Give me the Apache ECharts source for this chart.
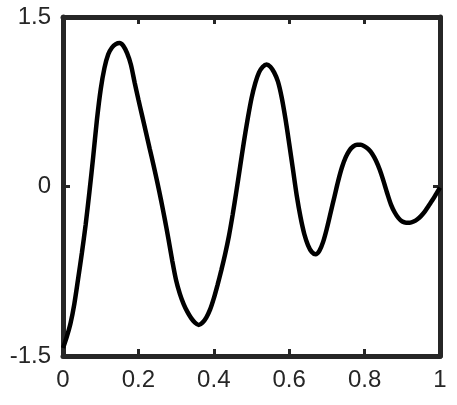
<!DOCTYPE html>
<html>
<head>
<meta charset="utf-8">
<script src="https://cdn.jsdelivr.net/npm/echarts@6/dist/echarts.min.js"></script>
<style>
  html, body { margin: 0; padding: 0; background: #fff; }
  #chart { width: 457px; height: 405px; }
</style>
</head>
<body>
<div id="chart"></div>
<script>
// values, one every 0.01 on x
var xs = [];
for (var i = 0; i <= 100; i++) xs.push(i / 100);
var ys = [
    -1.43, -1.33, -1.21, -1.04, -0.82, -0.59, -0.34, -0.05, 0.26, 0.59,
     0.86,  1.05,  1.17,  1.23,  1.26,  1.27,  1.245, 1.18, 1.08, 0.92,
     0.77,  0.625, 0.48,  0.335, 0.19,  0.04, -0.12, -0.29, -0.47, -0.66,
    -0.83, -0.95, -1.04, -1.11, -1.165, -1.205, -1.225, -1.205, -1.16, -1.09,
    -0.99, -0.87, -0.74, -0.60, -0.44, -0.25, -0.04,  0.18,  0.40,  0.60,
     0.78,  0.915, 1.01,  1.06,  1.08,  1.06,  1.01,  0.93,  0.79,  0.60,
     0.38,  0.15, -0.08, -0.27, -0.42, -0.52, -0.58, -0.60, -0.57, -0.49,
    -0.37, -0.23, -0.09,  0.05,  0.17,  0.26,  0.32,  0.355, 0.37,  0.37,
     0.355, 0.33,  0.29,  0.23,  0.15,  0.05, -0.06, -0.16, -0.23, -0.28,
    -0.31, -0.32, -0.32, -0.31, -0.29, -0.26, -0.22, -0.17, -0.12, -0.065,
    -0.01
];
var xTicks = [0, 0.2, 0.4, 0.6, 0.8, 1];
var yTicks = [-1.5, 0, 1.5];

var ink = '#262626';
var font = "'Liberation Sans', Arial, sans-serif";

var points = xs.map(function (x, i) { return [x, ys[i]]; });

function tickLabel(v) {
    return String(+v.toFixed(1));
}

var baseX = {
    type: 'value', min: 0, max: 1, interval: 0.2,
    axisLine: { show: true, onZero: false, lineStyle: { color: ink, width: 5 } },
    axisTick: { show: true, inside: true, length: 7, lineStyle: { color: ink, width: 3 } },
    splitLine: { show: false }
};
var baseY = {
    type: 'value', min: -1.5, max: 1.5, interval: 1.5,
    axisLine: { show: true, onZero: false, lineStyle: { color: ink, width: 5 } },
    axisTick: { show: true, inside: true, length: 7, lineStyle: { color: ink, width: 3 } },
    splitLine: { show: false }
};

var chart = echarts.init(document.getElementById('chart'), null, { renderer: 'canvas' });
chart.setOption({
    animation: false,
    grid: { left: 63, right: 17, top: 17, bottom: 49 },
    xAxis: [
        Object.assign({}, baseX, {
            position: 'bottom',
            axisLabel: { color: ink, fontSize: 24, fontFamily: font, margin: 12,
                formatter: function (v) { return xTicks.indexOf(+v.toFixed(1)) >= 0 ? tickLabel(v) : ''; } }
        }),
        Object.assign({}, baseX, { position: 'top', axisLabel: { show: false } })
    ],
    yAxis: [
        Object.assign({}, baseY, {
            position: 'left',
            axisLabel: { color: ink, fontSize: 24, fontFamily: font, margin: 12,
                formatter: function (v) { return yTicks.indexOf(+v.toFixed(1)) >= 0 ? tickLabel(v) : ''; } }
        }),
        Object.assign({}, baseY, { position: 'right', axisLabel: { show: false } })
    ],
    series: [{
        type: 'line',
        data: points,
        smooth: 0.3,
        showSymbol: false,
        lineStyle: { color: '#000', width: 4.5 }
    }]
});
</script>
</body>
</html>
